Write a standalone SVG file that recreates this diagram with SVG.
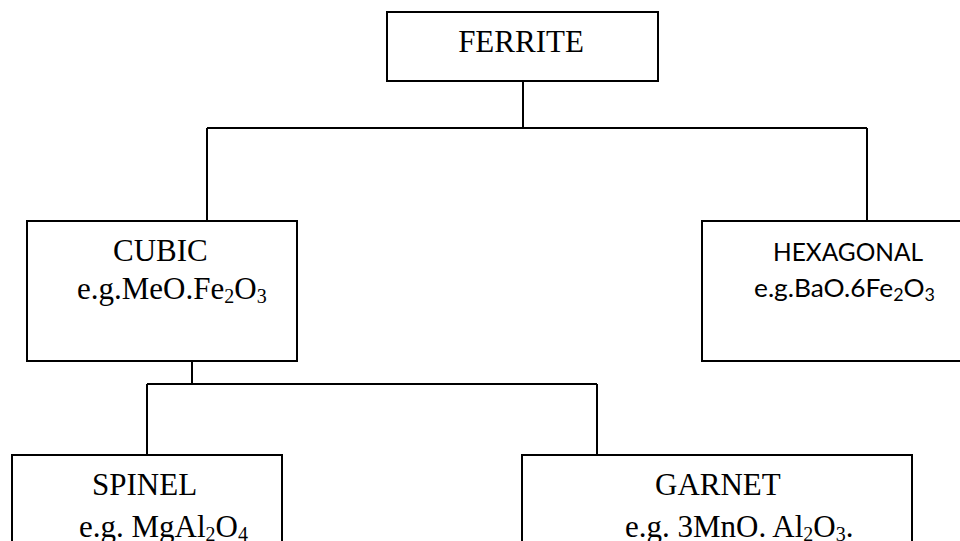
<svg xmlns="http://www.w3.org/2000/svg" width="960" height="541" viewBox="0 0 960 541">
<style>
.box{fill:#fff;stroke:#000;stroke-width:2}
.ln{stroke:#000;stroke-width:2;fill:none}
.t{font-family:"Liberation Serif","Times New Roman",serif;font-size:31px;fill:#000}
.s{font-family:"Lato","Open Sans",sans-serif;font-size:25px;fill:#000}
.sub{font-size:20px}
</style>
<rect width="960" height="541" fill="#fff"/>
<g id="connectors">
<path class="ln" d="M523 81V128M207 128H867M207 128V221M867 128V221"/>
<path class="ln" d="M192 361V384M147 384H597M147 384V455M597 384V455"/>
</g>
<g id="ferrite">
<rect class="box" x="387" y="12" width="271" height="69"/>
<text class="t" x="521" y="52" text-anchor="middle">FERRITE</text>
</g>
<g id="cubic">
<rect class="box" x="27" y="221" width="270" height="140"/>
<text class="t" x="113" y="261">CUBIC</text>
<text class="t" x="77" y="299">e.g.MeO.Fe<tspan class="sub" dy="4">2</tspan><tspan dy="-4">O</tspan><tspan class="sub" dy="4">3</tspan></text>
</g>
<g id="hexagonal">
<rect class="box" x="702" y="221" width="280" height="140"/>
<text class="s" x="773" y="261" textLength="150" lengthAdjust="spacingAndGlyphs">HEXAGONAL</text>
<text class="s" x="754" y="297" textLength="181" lengthAdjust="spacingAndGlyphs">e.g.BaO.6Fe<tspan class="sub" dy="4" style="font-size:17px">2</tspan><tspan dy="-4">O</tspan><tspan class="sub" dy="4" style="font-size:17px">3</tspan></text>
</g>
<g id="spinel">
<rect class="box" x="12" y="455" width="270" height="100"/>
<text class="t" x="92" y="495">SPINEL</text>
<text class="t" x="79" y="537">e.g. MgAl<tspan class="sub" dy="4">2</tspan><tspan dy="-4">O</tspan><tspan class="sub" dy="4">4</tspan></text>
</g>
<g id="garnet">
<rect class="box" x="522" y="455" width="390" height="100"/>
<text class="t" x="655" y="495">GARNET</text>
<text class="t" x="625" y="537">e.g. 3MnO. Al<tspan class="sub" dy="4">2</tspan><tspan dy="-4">O</tspan><tspan class="sub" dy="4">3</tspan><tspan dy="-4">.</tspan></text>
</g>
</svg>
